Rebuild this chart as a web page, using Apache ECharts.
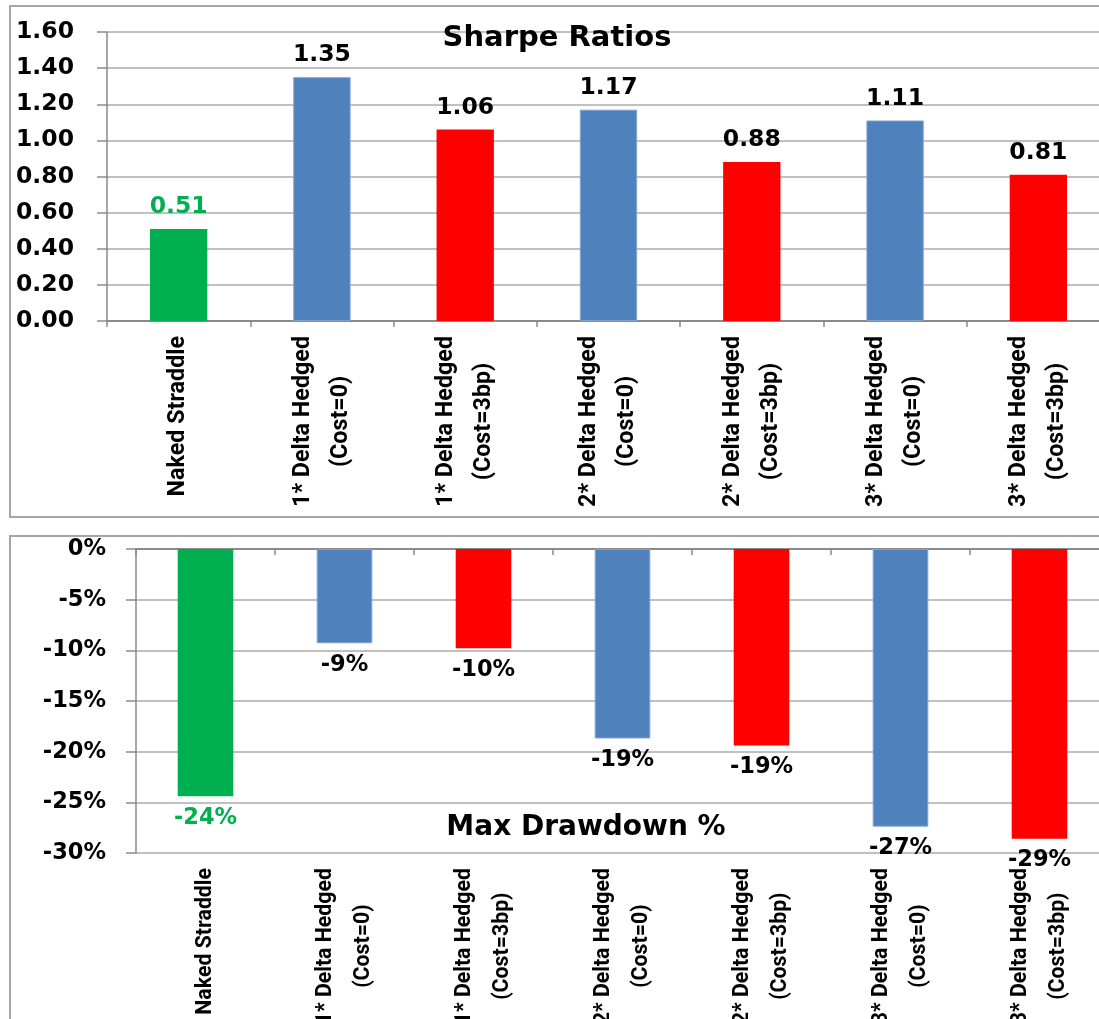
<!DOCTYPE html>
<html><head><meta charset="utf-8">
<script src="https://cdn.jsdelivr.net/npm/echarts@6/dist/echarts.min.js"></script>
<style>html,body{margin:0;padding:0;background:#fff}#c{width:1099px;height:1019px}</style>
</head><body><div id="c"></div>
<script>
// ---- data ----
const categories = [
  'Naked Straddle',
  '1* Delta Hedged\n(Cost=0)',
  '1* Delta Hedged\n(Cost=3bp)',
  '2* Delta Hedged\n(Cost=0)',
  '2* Delta Hedged\n(Cost=3bp)',
  '3* Delta Hedged\n(Cost=0)',
  '3* Delta Hedged\n(Cost=3bp)'
];
const sharpeRatios = [0.51, 1.35, 1.06, 1.17, 0.88, 1.11, 0.81];
const maxDrawdownPct = [-24.4, -9.3, -9.8, -18.7, -19.4, -27.4, -28.6];
const sharpeTicks = { min: 0, max: 1.6, interval: 0.2 };
const drawdownTicks = { min: -30, max: 0, interval: 5 };
const sharpeTitle = 'Sharpe Ratios';
const drawdownTitle = 'Max Drawdown %';

// ---- styles ----
const GREEN = '#00B050', BLUE = '#4F81BD', RED = '#FF0000';
const barColors = [GREEN, BLUE, RED, BLUE, RED, BLUE, RED];
const labelColors = [GREEN, '#000', '#000', '#000', '#000', '#000', '#000'];
const NUM_FONT = "'DejaVu Sans', Verdana, sans-serif";
const CAT_FONT = "Roboto, sans-serif";
const GRID_COLOR = '#ABABAB';
const AXIS_COLOR = '#8A8A8A';

function catLabel(fontSize) {
  return {
    rotate: 90,
    margin: 15,
    formatter: v => v.split('\n').map(s => '{c|' + s + '}').join('\n'),
    rich: { c: { align: 'center', fontFamily: CAT_FONT, fontSize: fontSize, fontWeight: 'bold', lineHeight: 38, color: '#000' } }
  };
}

function items(vals) {
  return vals.map((v, i) => ({
    value: v,
    itemStyle: { color: barColors[i], borderColor: barColors[i] === BLUE ? '#7FA3D1' : barColors[i], borderWidth: barColors[i] === BLUE ? 1 : 0 },
    label: { color: labelColors[i] }
  }));
}

const chart = echarts.init(document.getElementById('c'), null, { renderer: 'canvas' });
chart.setOption({
  animation: false,
  backgroundColor: '#fff',
  graphic: [
    { type: 'rect', shape: { x: 10, y: 6, width: 1200, height: 511 }, style: { fill: 'none', stroke: '#A6A6A6', lineWidth: 2 }, z: 0 },
    { type: 'rect', shape: { x: 10, y: 536, width: 1200, height: 600 }, style: { fill: 'none', stroke: '#A6A6A6', lineWidth: 2 }, z: 0 },
    { type: 'text', x: 557, y: 38, z: 10, style: { text: sharpeTitle, font: "bold 29px 'DejaVu Sans', sans-serif", fill: '#000', align: 'center', verticalAlign: 'middle' } },
    { type: 'text', x: 586, y: 828, z: 10, style: { text: drawdownTitle, font: "bold 28px 'DejaVu Sans', sans-serif", fill: '#000', align: 'center', verticalAlign: 'middle' } }
  ],
  grid: [
    { left: 107, top: 32, height: 289, width: 1003, outerBoundsMode: 'none', containLabel: false },
    { left: 136, top: 549, height: 304, width: 973, outerBoundsMode: 'none', containLabel: false }
  ],
  xAxis: [
    {
      gridIndex: 0, type: 'category', data: categories, boundaryGap: true,
      axisLine: { lineStyle: { color: AXIS_COLOR, width: 2 } },
      axisTick: { show: true, length: 6, lineStyle: { color: AXIS_COLOR, width: 1.5 } },
      axisLabel: catLabel(23.3)
    },
    {
      gridIndex: 1, type: 'category', data: categories, position: 'top', boundaryGap: true,
      axisLine: { onZero: false, lineStyle: { color: AXIS_COLOR, width: 2 } },
      axisTick: { show: true, inside: true, length: 6, lineStyle: { color: AXIS_COLOR, width: 1.5 } },
      axisLabel: { show: false }
    },
    {
      gridIndex: 1, type: 'category', data: categories, position: 'bottom', boundaryGap: true,
      axisLine: { show: false, onZero: false }, axisTick: { show: false },
      axisLabel: catLabel(21.3)
    }
  ],
  yAxis: [
    {
      gridIndex: 0, type: 'value', min: sharpeTicks.min, max: sharpeTicks.max, interval: sharpeTicks.interval,
      axisLine: { show: true, lineStyle: { color: AXIS_COLOR, width: 1.5 } },
      axisTick: { show: true, length: 10, lineStyle: { color: AXIS_COLOR, width: 1.5 } },
      axisLabel: { margin: 33, formatter: v => v.toFixed(2), fontFamily: NUM_FONT, fontSize: 23.5, fontWeight: 'bold', color: '#000' },
      splitLine: { show: true, lineStyle: { color: GRID_COLOR, width: 1.5 } }
    },
    {
      gridIndex: 1, type: 'value', min: drawdownTicks.min, max: drawdownTicks.max, interval: drawdownTicks.interval,
      axisLine: { show: true, lineStyle: { color: AXIS_COLOR, width: 1.5 } },
      axisTick: { show: true, length: 10, lineStyle: { color: AXIS_COLOR, width: 1.5 } },
      axisLabel: { margin: 30, formatter: v => v + '%', fontFamily: NUM_FONT, fontSize: 22.5, fontWeight: 'bold', color: '#000' },
      splitLine: { show: true, lineStyle: { color: GRID_COLOR, width: 1.5 } }
    }
  ],
  series: [
    {
      type: 'bar', xAxisIndex: 0, yAxisIndex: 0, barWidth: '40%',
      data: items(sharpeRatios),
      label: { show: true, position: 'top', distance: 10, formatter: p => p.value.toFixed(2), fontFamily: NUM_FONT, fontSize: 23.5, fontWeight: 'bold' }
    },
    {
      type: 'bar', xAxisIndex: 1, yAxisIndex: 1, barWidth: '40%',
      data: items(maxDrawdownPct),
      label: { show: true, position: 'bottom', distance: 10, formatter: p => Math.round(p.value) + '%', fontFamily: NUM_FONT, fontSize: 22.5, fontWeight: 'bold' }
    }
  ]
});
</script>
</body></html>
